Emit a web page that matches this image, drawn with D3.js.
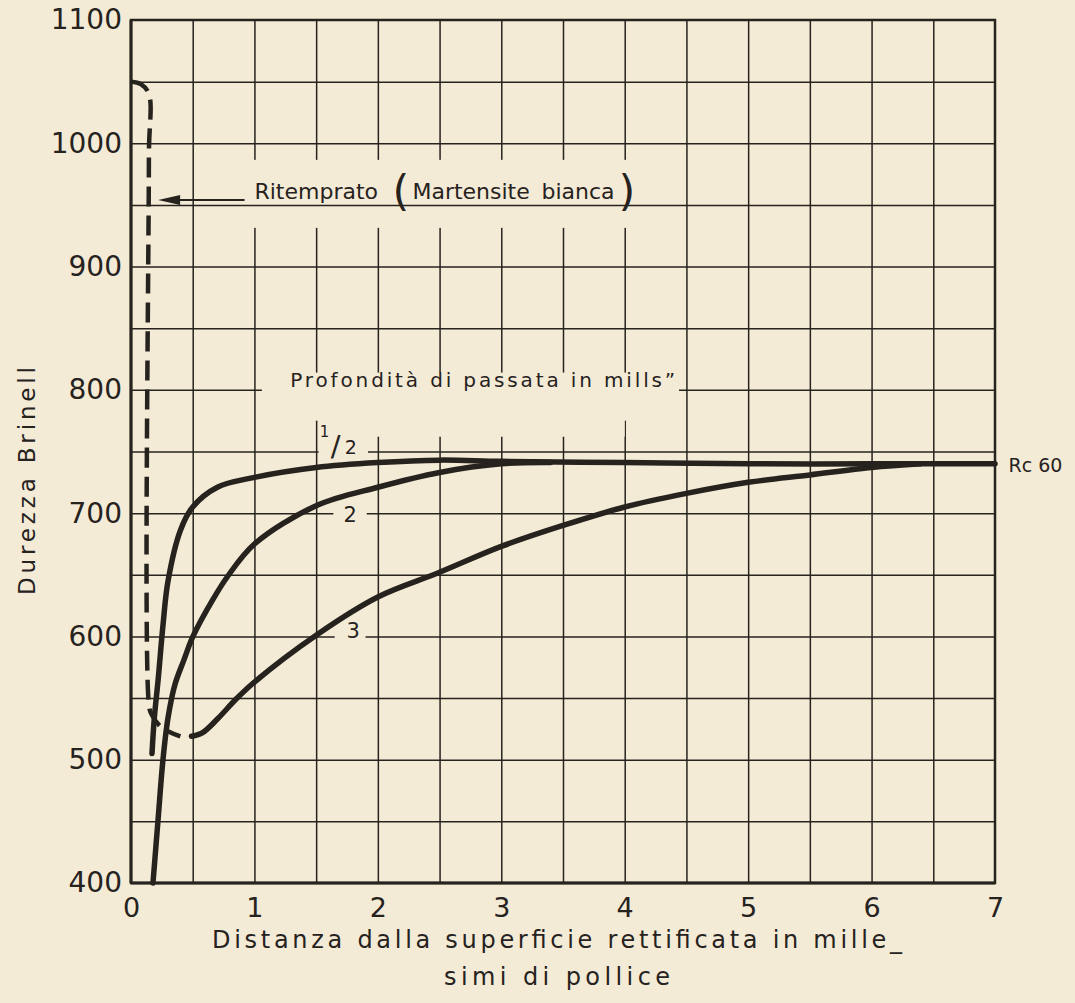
<!DOCTYPE html>
<html>
<head>
<meta charset="utf-8">
<script src="https://cdn.jsdelivr.net/npm/d3@7"></script>
<style>
  html, body { margin: 0; padding: 0; background: #f4ebd6; }
  svg { display: block; }
</style>
</head>
<body>
<div id="chart"></div>
<script>
// tick labels and grid steps
var xLabels = [0, 1, 2, 3, 4, 5, 6, 7];
var yLabels = [400, 500, 600, 700, 800, 900, 1000, 1100];
var xGrid = [0.5, 1, 1.5, 2, 2.5, 3, 3.5, 4, 4.5, 5, 5.5, 6, 6.5];
var yGrid = [450, 500, 550, 600, 650, 700, 750, 800, 850, 900, 950, 1000, 1050];

// curves: [distance, brinell]
var curveHalf = [[0.17, 505], [0.19, 535], [0.22, 565], [0.26, 610], [0.3, 645], [0.4, 686], [0.5, 705],
  [0.7, 721], [1.0, 729], [1.5, 737], [2.0, 741], [2.5, 743], [3.0, 742], [4.0, 741], [5.0, 740], [6.0, 740], [7.0, 740]];
var curveTwo = [[0.178, 400], [0.219, 451], [0.259, 500], [0.3, 534], [0.356, 561], [0.429, 581], [0.502, 600],
  [0.664, 630], [0.778, 648], [1.0, 675], [1.5, 706], [2.0, 721], [2.5, 733], [3.0, 740], [3.4, 741]];
var curveThree = [[0.49, 519], [0.58, 522], [0.7, 533], [0.85, 549], [1.0, 563], [1.5, 601], [2.0, 632], [2.5, 652],
  [3.0, 673], [3.5, 690], [4.0, 705], [4.5, 716], [5.0, 725], [5.5, 731], [6.0, 737], [6.4, 740]];
var rehardened = [[0, 1050], [0.08, 1048], [0.145, 1040], [0.145, 990], [0.145, 545], [0.165, 537], [0.25, 526], [0.4, 519]];

var arrowFrom = [0.92, 954];
var arrowTo = [0.22, 954];

var ink = "#26221e";
var paper = "#f4ebd6";
var font = "DejaVu Sans, sans-serif";

var svgWidth = 1075;
var svgHeight = 1003;

var svg = d3.select("#chart")
  .append("svg")
  .attr("width", svgWidth)
  .attr("height", svgHeight);

svg.append("rect").attr("width", svgWidth).attr("height", svgHeight).attr("fill", paper);

var x = d3.scaleLinear().domain([0, 7]).range([131, 995]);
var y = d3.scaleLinear().domain([400, 1100]).range([883, 20]);

var plotW = x(7) - x(0);
var plotH = y(400) - y(1100);

// vertical grid
var vGrid = svg.append("g")
  .attr("transform", `translate(0,${y(400)})`)
  .call(d3.axisBottom(x).tickValues(xGrid).tickSize(-plotH).tickFormat(""));
vGrid.select(".domain").remove();
vGrid.selectAll("line").attr("stroke", ink).attr("stroke-width", 1.5);

// gap in verticals behind the "Ritemprato" note
svg.append("rect")
  .attr("x", x(0.92)).attr("y", y(1092) + 130)
  .attr("width", x(4.1) - x(0.92)).attr("height", 68)
  .attr("fill", paper);

// horizontal grid
var hGrid = svg.append("g")
  .attr("transform", `translate(${x(0)},0)`)
  .call(d3.axisLeft(y).tickValues(yGrid).tickSize(-plotW).tickFormat(""));
hGrid.select(".domain").remove();
hGrid.selectAll("line").attr("stroke", ink).attr("stroke-width", 1.5);

// gaps behind the other labels
var gaps = [
  [1.06, 4.44, 814, 775],
  [1.94, 4.0, 776, 762],
  [1.52, 1.92, 762, 737],
  [1.64, 1.91, 708, 691],
  [1.65, 1.9, 614, 596]
];
svg.selectAll("rect.gap")
  .data(gaps)
  .enter()
  .append("rect")
  .attr("class", "gap")
  .attr("x", d => x(d[0]))
  .attr("y", d => y(d[2]))
  .attr("width", d => x(d[1]) - x(d[0]))
  .attr("height", d => y(d[3]) - y(d[2]))
  .attr("fill", paper);

// frame
svg.append("rect")
  .attr("x", x(0)).attr("y", y(1100))
  .attr("width", plotW).attr("height", plotH)
  .attr("fill", "none").attr("stroke", ink).attr("stroke-width", 2.5);
svg.append("line")
  .attr("x1", x(0)).attr("x2", x(0)).attr("y1", y(1100)).attr("y2", y(400))
  .attr("stroke", ink).attr("stroke-width", 3);
svg.append("line")
  .attr("x1", x(0)).attr("x2", x(7)).attr("y1", y(400)).attr("y2", y(400))
  .attr("stroke", ink).attr("stroke-width", 3);

// tick labels
var yAxis = svg.append("g")
  .attr("transform", `translate(${x(0)},0)`)
  .call(d3.axisLeft(y).tickValues(yLabels).tickSize(0).tickPadding(9).tickFormat(d3.format("d")));
yAxis.select(".domain").remove();
yAxis.selectAll("text").attr("font-size", 28).attr("font-family", font).attr("fill", ink);

var xAxis = svg.append("g")
  .attr("transform", `translate(0,${y(400)})`)
  .call(d3.axisBottom(x).tickValues(xLabels).tickSize(0).tickPadding(15).tickFormat(d3.format("d")));
xAxis.select(".domain").remove();
xAxis.selectAll("text").attr("font-size", 27).attr("font-family", font).attr("fill", ink);

// curves
var line = d3.line()
  .x(d => x(d[0]))
  .y(d => y(d[1]))
  .curve(d3.curveCatmullRom.alpha(0.5));

[curveThree, curveTwo, curveHalf].forEach(function(c) {
  svg.append("path")
    .datum(c)
    .attr("d", line)
    .attr("fill", "none")
    .attr("stroke", ink)
    .attr("stroke-width", 5.5)
    .attr("stroke-linecap", "round")
    .attr("stroke-linejoin", "round");
});

svg.append("path")
  .datum(rehardened)
  .attr("d", line)
  .attr("fill", "none")
  .attr("stroke", ink)
  .attr("stroke-width", 4.5)
  .attr("stroke-dasharray", "20,9");

// arrow
svg.append("line")
  .attr("x1", x(arrowFrom[0])).attr("y1", y(arrowFrom[1]))
  .attr("x2", x(arrowTo[0]) + 12).attr("y2", y(arrowTo[1]))
  .attr("stroke", ink).attr("stroke-width", 2);
var tipX = x(arrowTo[0]), tipY = y(arrowTo[1]);
svg.append("path")
  .attr("d", `M${tipX},${tipY} L${tipX + 22},${tipY - 5} L${tipX + 22},${tipY + 5} Z`)
  .attr("fill", ink);

// notes
var noteX = x(1.0), noteY = y(955);
var note = svg.append("text")
  .attr("y", noteY)
  .attr("font-family", font).attr("font-size", 22).attr("fill", ink);
note.append("tspan").attr("x", noteX).text("Ritemprato");
note.append("tspan").attr("x", noteX + 138).attr("dy", 7).attr("font-size", 43).text("(");
note.append("tspan").attr("x", noteX + 158).attr("dy", -7).text("Martensite");
note.append("tspan").attr("x", noteX + 287).text("bianca");
note.append("tspan").attr("x", noteX + 364).attr("dy", 7).attr("font-size", 43).text(")");

svg.append("text")
  .attr("x", x(1.29)).attr("y", y(802))
  .attr("font-family", font).attr("font-size", 20).attr("fill", ink)
  .attr("textLength", 385).attr("lengthAdjust", "spacing")
  .text("Profondità di passata in mills\u201D");

svg.append("text")
  .attr("x", x(7.11)).attr("y", y(739)).attr("dy", "0.36em")
  .attr("font-family", font).attr("font-size", 19).attr("fill", ink)
  .text("Rc 60");

// curve labels: the "1/2" written as a hand fraction
var hx = x(1.53), hy = y(762);
var half = svg.append("text").attr("font-family", font).attr("fill", ink);
half.append("tspan").attr("x", hx).attr("y", hy).attr("font-size", 15).text("1");
half.append("tspan").attr("x", hx + 11).attr("y", hy + 19).attr("font-size", 29).text("/");
half.append("tspan").attr("x", hx + 25).attr("y", hy + 17).attr("font-size", 19).text("2");

svg.append("text")
  .attr("x", x(1.775)).attr("y", y(699)).attr("dy", "0.36em").attr("text-anchor", "middle")
  .attr("font-family", font).attr("font-size", 21).attr("fill", ink).text("2");
svg.append("text")
  .attr("x", x(1.8)).attr("y", y(605)).attr("dy", "0.36em").attr("text-anchor", "middle")
  .attr("font-family", font).attr("font-size", 21).attr("fill", ink).text("3");

// axis titles
svg.append("text")
  .attr("x", 557).attr("y", 948).attr("text-anchor", "middle")
  .attr("font-family", font).attr("font-size", 24).attr("fill", ink)
  .attr("textLength", 690).attr("lengthAdjust", "spacing")
  .text("Distanza dalla superficie rettificata in mille_");
svg.append("text")
  .attr("x", 557).attr("y", 985).attr("text-anchor", "middle")
  .attr("font-family", font).attr("font-size", 24).attr("fill", ink)
  .attr("textLength", 226).attr("lengthAdjust", "spacing")
  .text("simi di pollice");

svg.append("text")
  .attr("transform", "translate(35,481) rotate(-90)")
  .attr("text-anchor", "middle")
  .attr("font-family", font).attr("font-size", 23).attr("fill", ink)
  .attr("textLength", 228).attr("lengthAdjust", "spacing")
  .text("Durezza Brinell");
</script>
</body>
</html>
